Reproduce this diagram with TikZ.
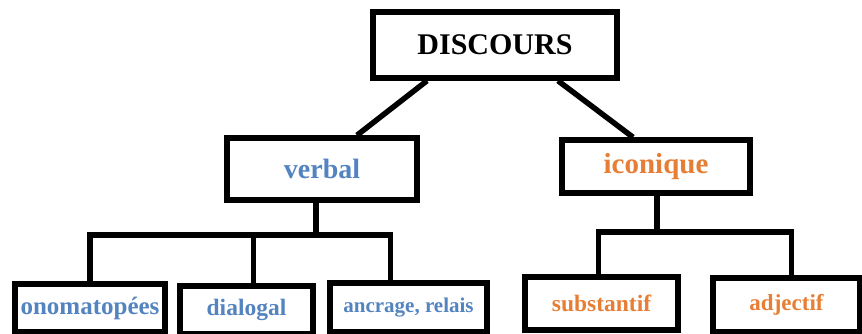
\documentclass[tikz,border=0pt]{standalone}
\usepackage{fontspec}
\setmainfont{Liberation Serif}
\definecolor{vblue}{RGB}{84,132,192}
\definecolor{iorange}{RGB}{230,126,54}
\tikzset{
  box/.style={draw=black, line width=5.5pt, fill=white, inner sep=0pt, font=\bfseries},
  conn/.style={draw=black, line width=5.5pt},
}
\newcommand{\fs}[1]{\fontsize{#1}{#1}\selectfont}
\newcommand{\dn}[1]{\raisebox{-2pt}{#1}}
\begin{document}
\begin{tikzpicture}[x=1pt,y=-1pt]
\useasboundingbox (0,0) rectangle (862,334);
% top
\node[box, minimum width=244, minimum height=66] (disc) at (495,45) {\fs{30}\dn{DISCOURS}};
% middle
\node[box, minimum width=190, minimum height=62, text=vblue] (verbal) at (322,169) {\fs{28}\dn{verbal}};
\node[box, minimum width=188, minimum height=53, text=iorange] (icon) at (656,166.5) {\fs{29}\dn{iconique}};
% bottom
\node[box, minimum width=150, minimum height=48, text=vblue] (ono) at (90,308) {\fs{25}\dn{onomatopées}};
\node[box, minimum width=133, minimum height=48, text=vblue] (dia) at (246.5,310) {\fs{23.5}\dn{dialogal}};
\node[box, minimum width=157, minimum height=49, text=vblue] (anc) at (408.5,307.5) {\fs{21}\dn{ancrage, relais}};
\node[box, minimum width=153, minimum height=53, text=iorange] (sub) at (601.5,303.5) {\fs{23.5}\dn{substantif}};
\node[box, minimum width=147, minimum height=54, text=iorange] (adj) at (786.5,305) {\fs{23}\dn{adjectif}};
% connectors top
\draw[conn] ([xshift=-68]disc.south) -- ([xshift=35]verbal.north);
\draw[conn] ([xshift=63]disc.south) -- ([xshift=-23]icon.north);
% verbal tree
\coordinate (vbar) at (0,235);
\draw[conn] ([xshift=-6]verbal.south) -- ([xshift=-6]verbal.south |- vbar);
\draw[conn] (ono.north) |- ([xshift=-18]anc.north |- vbar) -- ([xshift=-18]anc.north);
\draw[conn] ([xshift=7]dia.north) -- ([xshift=7]dia.north |- vbar);
% iconique tree
\coordinate (ibar) at (0,232);
\draw[conn] ([xshift=1]icon.south) -- ([xshift=1]icon.south |- ibar);
\draw[conn] ([xshift=-3]sub.north) |- ([xshift=5]adj.north |- ibar) -- ([xshift=5]adj.north);
\end{tikzpicture}
\end{document}
